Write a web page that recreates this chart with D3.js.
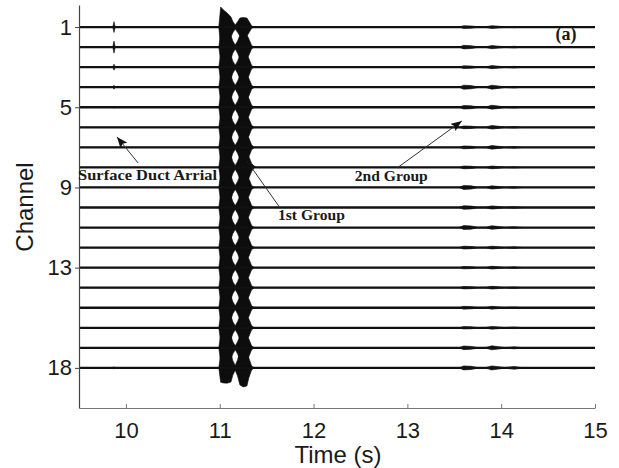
<!DOCTYPE html>
<html><head><meta charset="utf-8">
<script src="https://cdn.jsdelivr.net/npm/d3@7"></script>
<style>body{margin:0;background:#fff}svg{display:block}</style>
</head><body>
<svg id="chart" width="619" height="468"></svg>
<script>
// ---------- data ----------
const channels = [1,2,3,4,5,6,7,8,9,10,11,12,13,14,15,16,17,18];
const channelTicks = [1,5,9,13,18];
const timeTicks = [10,11,12,13,14,15];
const timeDomain = [9.5, 15];
const channelDomain = [-0.1, 20];

// surface duct arrival (half-amplitude, in channel spacings)
const ductTimes = [9.86, 9.873, 9.886];
const ductPeak = [0.27,0.3,0.15,0.1,0.04,0,0,0,0,0,0,0,0,0,0,0,0,0.06];

// first group envelope knots and half-amplitudes per channel
const group1Times = [10.99, 11.01, 11.04, 11.08, 11.12, 11.14, 11.165, 11.19, 11.215, 11.25, 11.29, 11.31, 11.34, 11.37];
const group1Amp = [
  [0, 1.00, 0.85, 0.70, 0.50, 0.28, 0.10, 0.26, 0.45, 0.48, 0.45, 0.30, 0.06, 0],
  [0, 0.70, 0.66, 0.63, 0.58, 0.30, 0.10, 0.30, 0.60, 0.66, 0.62, 0.42, 0.08, 0],
  [0, 0.70, 0.66, 0.63, 0.58, 0.30, 0.10, 0.30, 0.60, 0.66, 0.62, 0.44, 0.08, 0],
  [0, 0.70, 0.66, 0.63, 0.58, 0.30, 0.10, 0.30, 0.60, 0.66, 0.62, 0.45, 0.10, 0],
  [0, 0.70, 0.66, 0.63, 0.58, 0.30, 0.10, 0.30, 0.60, 0.66, 0.62, 0.45, 0.10, 0],
  [0, 0.70, 0.66, 0.63, 0.58, 0.30, 0.10, 0.30, 0.60, 0.66, 0.62, 0.45, 0.10, 0],
  [0, 0.70, 0.66, 0.63, 0.58, 0.30, 0.10, 0.30, 0.60, 0.66, 0.62, 0.48, 0.12, 0],
  [0, 0.70, 0.66, 0.63, 0.58, 0.30, 0.10, 0.30, 0.60, 0.66, 0.64, 0.55, 0.20, 0],
  [0, 0.70, 0.66, 0.63, 0.58, 0.30, 0.10, 0.30, 0.60, 0.66, 0.62, 0.45, 0.10, 0],
  [0, 0.70, 0.66, 0.63, 0.58, 0.30, 0.10, 0.30, 0.60, 0.66, 0.62, 0.45, 0.10, 0],
  [0, 0.70, 0.66, 0.63, 0.58, 0.30, 0.10, 0.30, 0.60, 0.66, 0.62, 0.45, 0.10, 0],
  [0, 0.70, 0.66, 0.63, 0.58, 0.30, 0.10, 0.30, 0.60, 0.66, 0.62, 0.45, 0.10, 0],
  [0, 0.70, 0.66, 0.63, 0.58, 0.30, 0.10, 0.30, 0.60, 0.66, 0.62, 0.45, 0.10, 0],
  [0, 0.70, 0.66, 0.63, 0.58, 0.30, 0.10, 0.30, 0.60, 0.66, 0.62, 0.45, 0.10, 0],
  [0, 0.70, 0.66, 0.63, 0.58, 0.30, 0.10, 0.30, 0.60, 0.66, 0.62, 0.45, 0.10, 0],
  [0, 0.70, 0.66, 0.63, 0.58, 0.30, 0.10, 0.30, 0.60, 0.66, 0.62, 0.45, 0.10, 0],
  [0, 0.70, 0.66, 0.63, 0.58, 0.30, 0.10, 0.30, 0.60, 0.66, 0.62, 0.45, 0.10, 0],
  [0, 0.72, 0.75, 0.76, 0.70, 0.36, 0.12, 0.40, 0.85, 0.95, 0.90, 0.50, 0.10, 0]
];

// second group: knot times and three wave-packet peaks per channel
const group2Times = [13.55, 13.60, 13.68, 13.75, 13.84, 13.90, 13.97, 14.04, 14.14, 14.24];
const group2First  = [0.07,0.09,0.07,0.10,0.09,0.07,0.07,0.07,0.10,0.09,0.10,0.07,0.06,0.06,0.07,0.06,0.09,0.10];
const group2Second = [0.07,0.08,0.08,0.10,0.10,0.09,0.09,0.07,0.08,0.08,0.09,0.07,0.07,0.07,0.07,0.07,0.10,0.10];
const group2Third  = [0.03,0.04,0.04,0.04,0.04,0.04,0.04,0.03,0.04,0.04,0.04,0.04,0.04,0.04,0.04,0.04,0.05,0.07];

// annotations (time, channel coordinates)
const annotations = [
  {text: "Surface Duct Arrial", tx: 9.49, ty: 8.63, width: 139, from: [10.13, 7.78], to: [9.905, 6.48]},
  {text: "1st Group", tx: 11.62, ty: 10.62, width: 67, from: [11.64, 10.0], to: [11.29, 7.68]},
  {text: "2nd Group", tx: 12.44, ty: 8.68, width: 73, from: [12.89, 8.03], to: [13.58, 5.69]}
];
const panelLabel = {text: "(a)", t: 14.69, ch: 1.65};

// ---------- drawing ----------
const svg = d3.select("#chart");
const x = d3.scaleLinear().domain(timeDomain).range([79, 595]);
const y = d3.scaleLinear().domain(channelDomain).range([5, 408]);

svg.append("rect").attr("width",619).attr("height",468).attr("fill","#fff");

const traces = channels.map((ch, i) => {
  const pts = [[timeDomain[0], 0]];
  ductTimes.forEach((t, k) => pts.push([t, k === 1 ? ductPeak[i] : 0]));
  group1Times.forEach((t, k) => pts.push([t, group1Amp[i][k]]));
  const f = group2First[i], s = group2Second[i];
  const g2 = [0, f, f * 0.8, 0.015, 0.02, s, s * 0.6, 0.015, group2Third[i], 0];
  group2Times.forEach((t, k) => pts.push([t, g2[k]]));
  pts.push([timeDomain[1], 0]);
  return {ch, pts};
});

const area = d3.area()
  .x(d => x(d[0]))
  .y0(d => y(d[2] - d[1]))
  .y1(d => y(d[2] + d[1]));

const g = svg.append("g");
traces.forEach(tr => {
  const data = tr.pts.map(p => [p[0], p[1], tr.ch]);
  g.append("path").attr("d", area(data)).attr("fill", "#0d0d0d")
    .attr("stroke", "#0d0d0d").attr("stroke-width", 0.6);
  g.append("line")
    .attr("x1", x(timeDomain[0])).attr("x2", x(timeDomain[1]))
    .attr("y1", y(tr.ch)).attr("y2", y(tr.ch))
    .attr("stroke", "#111").attr("stroke-width", 2.3);
});

// axes
const yAxis = d3.axisLeft(y).tickValues(channelTicks).tickSize(4).tickSizeOuter(0).tickPadding(3);
const ya = svg.append("g").attr("transform", "translate(79,0)").call(yAxis);
ya.select(".domain").attr("stroke", "#444").attr("stroke-width", 1.2);
ya.selectAll(".tick line").attr("stroke", "#444");
ya.selectAll("text").attr("font-family", "'Liberation Sans', Arial, sans-serif")
  .attr("font-size", 22).attr("fill", "#1a1a1a");

const xAxis = d3.axisBottom(x).tickValues(timeTicks).tickSize(-4).tickSizeOuter(0).tickPadding(14)
  .tickFormat(d3.format("d"));
const xa = svg.append("g").attr("transform", "translate(0,408)").call(xAxis);
xa.select(".domain").attr("stroke", "#777").attr("stroke-width", 1.2);
xa.selectAll(".tick line").attr("stroke", "#777");
xa.selectAll("text").attr("font-family", "'Liberation Sans', Arial, sans-serif")
  .attr("font-size", 22).attr("fill", "#1a1a1a");

svg.append("text").attr("x", 338).attr("y", 463).attr("text-anchor", "middle")
  .attr("font-family", "'Liberation Sans', Arial, sans-serif").attr("font-size", 24)
  .attr("fill", "#1a1a1a").text("Time (s)");
svg.append("text").attr("transform", "translate(33,207) rotate(-90)").attr("text-anchor", "middle")
  .attr("font-family", "'Liberation Sans', Arial, sans-serif").attr("font-size", 24)
  .attr("fill", "#1a1a1a").text("Channel");

// annotations
svg.append("defs").append("marker").attr("id", "ah")
  .attr("viewBox", "0 0 10 8").attr("refX", 10).attr("refY", 4)
  .attr("markerWidth", 11).attr("markerHeight", 9).attr("markerUnits", "userSpaceOnUse")
  .attr("orient", "auto")
  .append("path").attr("d", "M0,0 L10,4 L0,8 L2,4 Z").attr("fill", "#111");

annotations.forEach(a => {
  svg.append("line")
    .attr("x1", x(a.from[0])).attr("y1", y(a.from[1]))
    .attr("x2", x(a.to[0])).attr("y2", y(a.to[1]))
    .attr("stroke", "#333").attr("stroke-width", 1)
    .attr("marker-end", "url(#ah)");
  svg.append("text").attr("x", x(a.tx)).attr("y", y(a.ty))
    .attr("font-family", "'Liberation Serif', 'Times New Roman', serif")
    .attr("font-weight", "bold").attr("font-size", 15).attr("fill", "#1a1a1a")
    .attr("textLength", a.width).attr("lengthAdjust", "spacingAndGlyphs")
    .text(a.text);
});

svg.append("text").attr("x", x(panelLabel.t)).attr("y", y(panelLabel.ch))
  .attr("text-anchor", "middle")
  .attr("font-family", "'Liberation Serif', 'Times New Roman', serif")
  .attr("font-weight", "bold").attr("font-size", 18).attr("fill", "#1a1a1a")
  .text(panelLabel.text);
</script>
</body></html>
